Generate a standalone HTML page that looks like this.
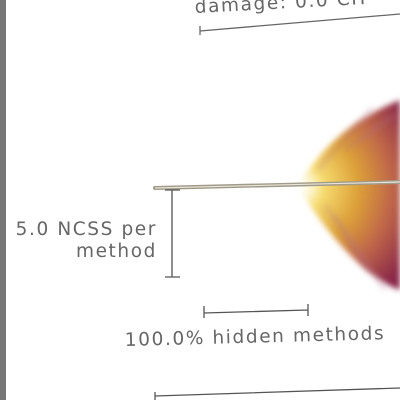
<!DOCTYPE html>
<html><head><meta charset="utf-8"><style>
html,body{margin:0;padding:0;background:#fff;width:400px;height:400px;overflow:hidden}
svg{display:block}
text{font-family:"DejaVu Sans","Liberation Sans",sans-serif;fill:#666;font-size:18.5px;letter-spacing:1.6px}
</style></head><body>
<svg width="400" height="400" viewBox="0 0 400 400">
<defs>
<radialGradient id="fg" cx="300" cy="187" r="130" gradientUnits="userSpaceOnUse">
<stop offset="0" stop-color="#fffbe0" stop-opacity="0.2"/>
<stop offset="0.18" stop-color="#f6dc70"/>
<stop offset="0.45" stop-color="#dca038"/>
<stop offset="0.7" stop-color="#c06848"/>
<stop offset="1" stop-color="#8a2848"/>
</radialGradient>
<filter id="bl"><feGaussianBlur stdDeviation="3"/></filter>
</defs>
<rect x="0" y="0" width="6" height="400" fill="#777"/>
<g>
<text x="195" y="13" transform="rotate(-3 195 13)">damage: 0.0 CH</text>
<path d="M200 26 L200 35 M200 31 L400 14" stroke="#666" stroke-width="1.3" fill="none"/>
</g>
<g>
<path d="M298 186 C320 150 350 120 400 100 L400 290 C370 280 330 240 298 186 Z" fill="url(#fg)" filter="url(#bl)"/>
<path d="M318 170 L372 108 M325 205 L370 272 M335 215 L385 290 M345 150 L395 115" stroke="#b07090" stroke-opacity="0.35" stroke-width="3" filter="url(#bl)"/>
</g>
<path d="M155 188 L400 182" stroke="#a09a88" stroke-width="4" stroke-linecap="round"/>
<path d="M155 188 L400 182" stroke="#e8e4d8" stroke-width="1.2"/>
<g>
<path d="M172 190 L172 277 M165 277 L180 277 M165 190 L180 190" stroke="#555" stroke-width="1.3" fill="none"/>
<text x="157" y="235" text-anchor="end">5.0 NCSS per</text>
<text x="157" y="257" text-anchor="end">method</text>
</g>
<g>
<path d="M204 313 L308 310 M204 306 L204 318 M308 304 L308 316" stroke="#555" stroke-width="1.3" fill="none"/>
<text x="125" y="346" transform="rotate(-1.5 125 346)">100.0% hidden methods</text>
</g>
<path d="M155 400 L155 392 M155 396 L400 388" stroke="#555" stroke-width="1.3" fill="none"/>
</svg>
</body></html>
